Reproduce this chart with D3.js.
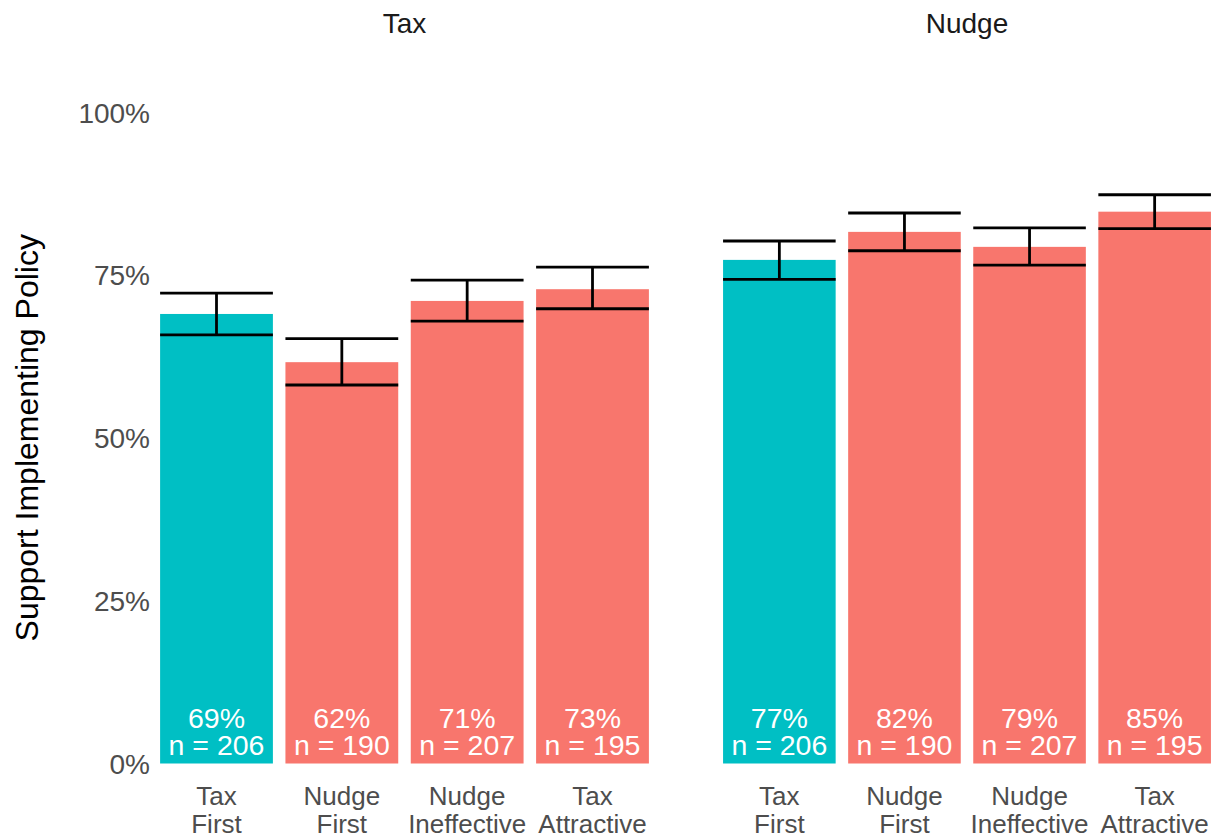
<!DOCTYPE html>
<html>
<head>
<meta charset="utf-8">
<script src="https://cdn.jsdelivr.net/npm/d3@7"></script>
<style>
  html, body { margin: 0; padding: 0; background: #fff; }
  svg { display: block; font-family: "Liberation Sans", Arial, Helvetica, sans-serif; }
</style>
</head>
<body>
<svg id="chart" width="1215" height="837"></svg>
<script>
// Policy facets and experimental conditions
const facets = ["Tax", "Nudge"];
const conditions = ["Tax First", "Nudge First", "Nudge Ineffective", "Tax Attractive"];
const conditionLines = [["Tax", "First"], ["Nudge", "First"], ["Nudge", "Ineffective"], ["Tax", "Attractive"]];
const conditionColors = ["#00BFC4", "#F8766D", "#F8766D", "#F8766D"];
const sampleSizes = [206, 190, 207, 195];

// Share supporting each policy, with confidence bounds
const taxSupport = [0.690, 0.616, 0.710, 0.728];
const taxLower   = [0.658, 0.581, 0.679, 0.698];
const taxUpper   = [0.722, 0.652, 0.742, 0.762];
const nudgeSupport = [0.773, 0.816, 0.793, 0.847];
const nudgeLower   = [0.743, 0.787, 0.765, 0.821];
const nudgeUpper   = [0.802, 0.845, 0.822, 0.873];

const yTicks = [0, 0.25, 0.5, 0.75, 1];

const panelData = {
  Tax:   { support: taxSupport,   lower: taxLower,   upper: taxUpper },
  Nudge: { support: nudgeSupport, lower: nudgeLower, upper: nudgeUpper }
};

const svg = d3.select("#chart");

const panelTop = 112, panelBottom = 763.5;
const panels = [
  { name: facets[0], x0: 141.3, x1: 667.7 },
  { name: facets[1], x0: 704.3, x1: 1229.7 }
];

const y = d3.scaleLinear().domain([0, 1]).range([panelBottom, panelTop]);
const pct = d3.format(".0%");

// Y axis tick labels
const yAxis = d3.axisLeft(y).tickValues(yTicks).tickFormat(pct).tickSize(0).tickPadding(0);
const yg = svg.append("g").attr("transform", "translate(150,0)").call(yAxis);
yg.select(".domain").remove();
yg.selectAll("text")
  .attr("fill", "#4D4D4D")
  .attr("font-size", 28)
  .attr("font-family", "Liberation Sans, Arial, sans-serif")
  .attr("dy", "0.36em");

// Y axis title
svg.append("text")
  .attr("transform", `translate(38,${(panelTop + panelBottom) / 2}) rotate(-90)`)
  .attr("text-anchor", "middle")
  .attr("font-size", 32)
  .attr("fill", "#000")
  .text("Support Implementing Policy");

panels.forEach(p => {
  const d = panelData[p.name];
  const x = d3.scaleBand()
    .domain(conditions)
    .range([p.x0, p.x1])
    .paddingInner(0.1)
    .paddingOuter(0.15);

  const g = svg.append("g");

  // facet strip title
  g.append("text")
    .attr("x", (p.x0 + p.x1) / 2)
    .attr("y", 33)
    .attr("text-anchor", "middle")
    .attr("font-size", 28)
    .attr("fill", "#1A1A1A")
    .text(p.name);

  const rows = conditions.map((c, i) => ({
    cond: c, lines: conditionLines[i], color: conditionColors[i], n: sampleSizes[i],
    v: d.support[i], lo: d.lower[i], hi: d.upper[i]
  }));

  // bars
  g.selectAll("rect.bar").data(rows).join("rect")
    .attr("class", "bar")
    .attr("x", r => x(r.cond))
    .attr("width", x.bandwidth())
    .attr("y", r => y(r.v))
    .attr("height", r => y(0) - y(r.v))
    .attr("fill", r => r.color);

  // error bars
  const eb = g.selectAll("g.err").data(rows).join("g").attr("class", "err")
    .attr("stroke", "#000").attr("stroke-width", 2.8);
  eb.append("line")
    .attr("x1", r => x(r.cond) + x.bandwidth() / 2)
    .attr("x2", r => x(r.cond) + x.bandwidth() / 2)
    .attr("y1", r => y(r.lo)).attr("y2", r => y(r.hi));
  eb.append("line")
    .attr("x1", r => x(r.cond)).attr("x2", r => x(r.cond) + x.bandwidth())
    .attr("y1", r => y(r.hi)).attr("y2", r => y(r.hi));
  eb.append("line")
    .attr("x1", r => x(r.cond)).attr("x2", r => x(r.cond) + x.bandwidth())
    .attr("y1", r => y(r.lo)).attr("y2", r => y(r.lo));

  // value + sample size labels inside bars
  const lab = g.selectAll("text.val").data(rows).join("text")
    .attr("class", "val")
    .attr("text-anchor", "middle")
    .attr("fill", "#fff")
    .attr("font-size", 28.5);
  lab.append("tspan")
    .attr("x", r => x(r.cond) + x.bandwidth() / 2)
    .attr("y", 727.5)
    .text(r => pct(r.v));
  lab.append("tspan")
    .attr("x", r => x(r.cond) + x.bandwidth() / 2)
    .attr("y", 755)
    .text(r => `n = ${r.n}`);

  // x axis category labels (two lines)
  const xl = g.selectAll("text.cat").data(rows).join("text")
    .attr("class", "cat")
    .attr("text-anchor", "middle")
    .attr("fill", "#4D4D4D")
    .attr("font-size", 26);
  xl.each(function (r) {
    const t = d3.select(this);
    r.lines.forEach((ln, k) => {
      t.append("tspan")
        .attr("x", x(r.cond) + x.bandwidth() / 2)
        .attr("y", 805 + k * 28)
        .text(ln);
    });
  });
});
</script>
</body>
</html>
